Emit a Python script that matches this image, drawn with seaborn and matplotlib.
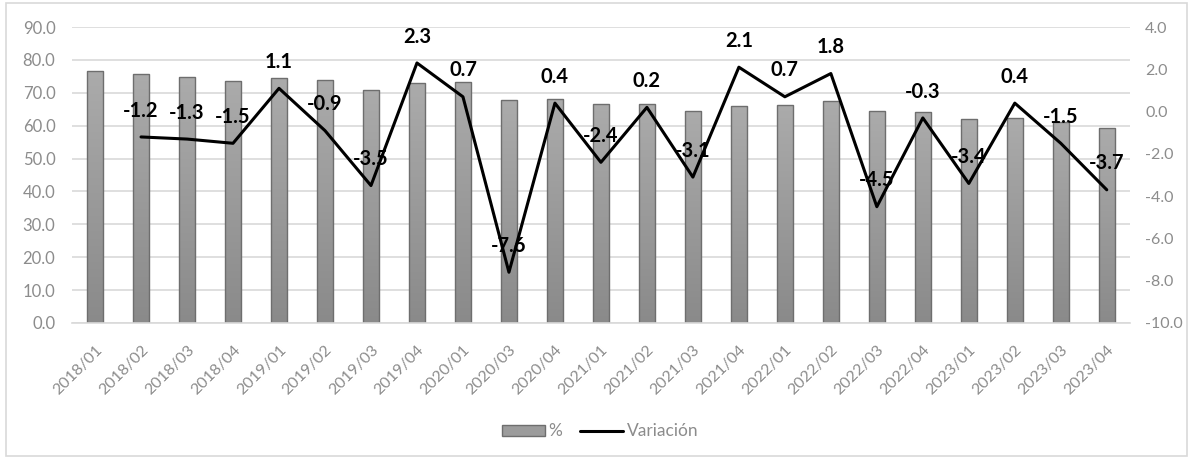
import numpy as np
import pandas as pd
import matplotlib
matplotlib.use("Agg")
import matplotlib.pyplot as plt
from matplotlib.patches import Patch, Rectangle
from matplotlib.lines import Line2D
import seaborn as sns

periods = ["2018/01", "2018/02", "2018/03", "2018/04", "2019/01", "2019/02", "2019/03",
           "2019/04", "2020/01", "2020/03", "2020/04", "2021/01", "2021/02", "2021/03",
           "2021/04", "2022/01", "2022/02", "2022/03", "2022/04", "2023/01", "2023/02",
           "2023/03", "2023/04"]
pct = [76.7, 75.8, 74.8, 73.6, 74.5, 73.9, 71.0, 73.0, 73.4, 67.8, 68.1, 66.5, 66.6,
       64.4, 65.9, 66.3, 67.5, 64.4, 64.1, 62.0, 62.3, 61.1, 59.2]
variacion = [np.nan, -1.2, -1.3, -1.5, 1.1, -0.9, -3.5, 2.3, 0.7, -7.6, 0.4, -2.4, 0.2,
             -3.1, 2.1, 0.7, 1.8, -4.5, -0.3, -3.4, 0.4, -1.5, -3.7]

df = pd.DataFrame({"periodo": periods, "pct": pct, "var": variacion})
df["pos"] = np.arange(len(df))

sns.set_style("white")
plt.rcParams["font.family"] = ["Lato", "DejaVu Sans"]

grid_c = "#d9d9d9"
tick_c = "#8c8c8c"

fig = plt.figure(figsize=(11.93, 4.58), dpi=100)
ax = fig.add_axes([0.0604, 0.2948, 0.8866, 0.6462])

sns.barplot(data=df, x="periodo", y="pct", color="#9c9c9c", width=0.35,
            edgecolor="#6e6e6e", linewidth=1.0, saturation=1, ax=ax, zorder=2)

# vertical gradient inside bars (lighter at top, darker at bottom)
grad = np.linspace(0, 1, 256).reshape(-1, 1)
cmap = matplotlib.colors.LinearSegmentedColormap.from_list("g", ["#8a8a8a", "#ababab"])
for p in list(ax.patches):
    x0, y0, w, h = p.get_x(), p.get_y(), p.get_width(), p.get_height()
    im = ax.imshow(grad, extent=[x0, x0 + w, y0, y0 + h], origin="lower", cmap=cmap,
                   aspect="auto", zorder=2.1)
    im.set_clip_path(p)
    p.set_facecolor("none")
    p.set_zorder(2.2)

ax.set_xlim(-0.5, len(df) - 0.5)
ax.set_ylim(0, 90)
ax.set_yticks(np.arange(0, 91, 10))
ax.set_yticklabels([f"{v:.1f}" for v in np.arange(0, 91, 10)])
ax.yaxis.grid(True, color=grid_c, linewidth=1.2, zorder=0)
ax.set_axisbelow(True)
ax.set_xlabel(None)
ax.set_ylabel(None)
for s in ["top", "right", "left"]:
    ax.spines[s].set_visible(False)
ax.spines["bottom"].set_color(grid_c)
ax.spines["bottom"].set_linewidth(1.2)
ax.tick_params(axis="y", length=0, labelsize=12, labelcolor=tick_c, pad=12)
ax.tick_params(axis="x", length=0, labelsize=11.5, labelcolor=tick_c, pad=14)
plt.setp(ax.get_xticklabels(), rotation=45, ha="right", rotation_mode="anchor")

ax2 = ax.twinx()
line_df = df.dropna(subset=["var"])
sns.lineplot(data=line_df, x="pos", y="var", color="black", linewidth=2.2, ax=ax2,
             zorder=5)
ax2.set_ylim(-10, 4)
ax2.set_yticks(np.arange(-10, 4.1, 2))
ax2.set_yticklabels([f"{v:.1f}" for v in np.arange(-10, 4.1, 2)])
ax2.set_xlim(-0.5, len(df) - 0.5)
ax2.set_xlabel(None)
ax2.set_ylabel(None)
for s in ["top", "right", "left", "bottom"]:
    ax2.spines[s].set_visible(False)
ax2.tick_params(axis="y", length=0, labelsize=11.5, labelcolor=tick_c, pad=11)

for xp, v in zip(line_df["pos"], line_df["var"]):
    ax2.annotate(f"{v:.1f}", (xp, v), xytext=(0, 19), textcoords="offset points",
                 ha="center", va="center", fontsize=14.5, fontweight="bold",
                 color="black", zorder=6)

handles = [Patch(facecolor="#9c9c9c", edgecolor="#6e6e6e", label="%"),
           Line2D([0], [0], color="black", linewidth=2.2, label="Variación")]
leg = fig.legend(handles=handles, loc="center", bbox_to_anchor=(0.503, 0.058), ncol=2,
                 frameon=False, fontsize=12.5, handlelength=2.5, handleheight=0.6,
                 handletextpad=0.2, columnspacing=1.0)
for t in leg.get_texts():
    t.set_color(tick_c)

fig.patches.append(Rectangle((0.005, 0.005), 0.99, 0.989, transform=fig.transFigure,
                             fill=False, edgecolor="#d9d9d9", linewidth=1.2))

fig.savefig("out.png", dpi=100, facecolor="white")
